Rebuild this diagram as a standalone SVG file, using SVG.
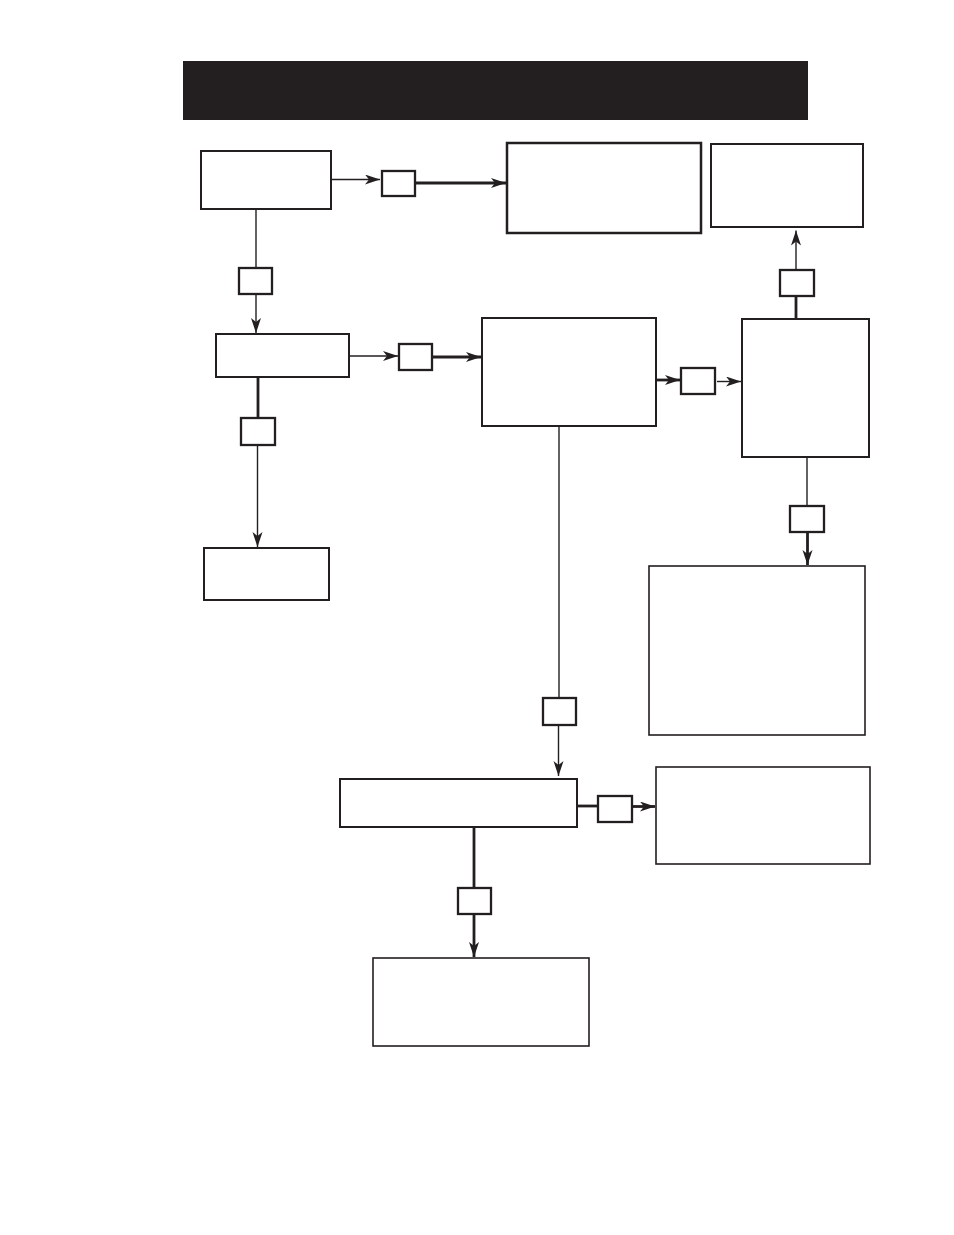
<svg xmlns="http://www.w3.org/2000/svg" width="954" height="1235" viewBox="0 0 954 1235">
<style>
.node{fill:#ffffff;stroke:#231f20;stroke-width:2}
.thk{stroke-width:2.5}
.thn{stroke-width:1.6}
.lbl{fill:#ffffff;stroke:#231f20;stroke-width:2.3}
.c{fill:none;stroke:#231f20}
.t1{stroke-width:1.4}
.t2{stroke-width:2.8}
.a{marker-end:url(#arr)}
</style>
<defs>
<marker id="arr" markerUnits="userSpaceOnUse" markerWidth="16" markerHeight="11" refX="15" refY="5" orient="auto">
<path d="M0,0 L15,5 L0,10 L4,5 z" fill="#231f20"/>
</marker>
</defs>
<rect width="954" height="1235" fill="#ffffff"/>
<g id="header"><rect x="183" y="61" width="625" height="59" fill="#231f20"/></g>
<g id="nodeA"><rect class="node" x="201" y="151" width="130" height="58"/></g>
<g id="nodeB"><rect class="node thk" x="507" y="143" width="194" height="90"/></g>
<g id="nodeC"><rect class="node" x="711" y="144" width="152" height="83"/></g>
<g id="nodeH"><rect class="node" x="216" y="334" width="133" height="43"/></g>
<g id="nodeD"><rect class="node" x="482" y="318" width="174" height="108"/></g>
<g id="nodeE"><rect class="node" x="742" y="319" width="127" height="138"/></g>
<g id="nodeI"><rect class="node" x="204" y="548" width="125" height="52"/></g>
<g id="nodeG"><rect class="node thn" x="649" y="566" width="216" height="169"/></g>
<g id="nodeF"><rect class="node" x="340" y="779" width="237" height="48"/></g>
<g id="nodeJ"><rect class="node thn" x="656" y="767" width="214" height="97"/></g>
<g id="nodeK"><rect class="node thn" x="373" y="958" width="216" height="88"/></g>
<g id="connectors">
<line class="c t1 a" x1="332" y1="179.5" x2="380" y2="179.5"/>
<line class="c t2 a" x1="416" y1="183" x2="506" y2="183"/>
<line class="c t1" x1="256" y1="210" x2="256" y2="268"/>
<line class="c t1 a" x1="256" y1="294" x2="256" y2="333"/>
<line class="c t1 a" x1="350" y1="356" x2="398" y2="356"/>
<line class="c t2 a" x1="433" y1="357" x2="481" y2="357"/>
<line class="c t2" x1="258" y1="377" x2="258" y2="418"/>
<line class="c t1 a" x1="257.5" y1="445" x2="257.5" y2="547"/>
<line class="c t2 a" x1="656" y1="380" x2="680" y2="380"/>
<line class="c t1 a" x1="717" y1="381.5" x2="741" y2="381.5"/>
<line class="c t2" x1="796" y1="319" x2="796" y2="296"/>
<line class="c t1 a" x1="796" y1="270" x2="796" y2="230.5"/>
<line class="c t1" x1="807" y1="457" x2="807" y2="506"/>
<line class="c t2 a" x1="807.5" y1="532" x2="807.5" y2="565"/>
<line class="c t1" x1="559" y1="426" x2="559" y2="698"/>
<line class="c t1 a" x1="558.5" y1="725" x2="558.5" y2="776"/>
<line class="c t2" x1="577" y1="806" x2="598" y2="806"/>
<line class="c t2 a" x1="632" y1="806.5" x2="655" y2="806.5"/>
<line class="c t2" x1="474" y1="827" x2="474" y2="888"/>
<line class="c t2 a" x1="474" y1="914" x2="474" y2="957"/>
</g>
<g id="labels">
<rect class="lbl" x="382" y="171" width="33" height="25"/>
<rect class="lbl" x="239" y="268" width="33" height="26"/>
<rect class="lbl" x="399" y="344" width="33" height="26"/>
<rect class="lbl" x="241" y="418" width="34" height="27"/>
<rect class="lbl" x="681" y="368" width="34" height="26"/>
<rect class="lbl" x="780" y="270" width="34" height="26"/>
<rect class="lbl" x="790" y="506" width="34" height="26"/>
<rect class="lbl" x="543" y="698" width="33" height="27"/>
<rect class="lbl" x="598" y="796" width="34" height="26"/>
<rect class="lbl" x="458" y="888" width="33" height="26"/>
</g>
</svg>
